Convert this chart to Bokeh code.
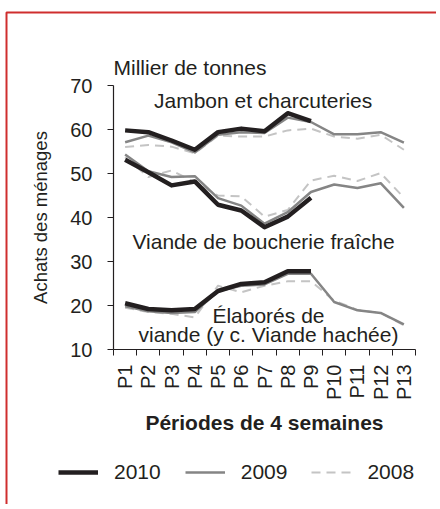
import math
from bokeh.plotting import figure
from bokeh.models import FixedTicker, Label, Legend, LegendItem, BoxAnnotation, Range1d
from bokeh.embed import file_html
from bokeh.resources import INLINE

periods = ["P1", "P2", "P3", "P4", "P5", "P6", "P7", "P8", "P9", "P10", "P11", "P12", "P13"]
years = ["2010", "2009", "2008"]

jambon_2010 = [59.8, 59.4, 57.5, 55.4, 59.4, 60.2, 59.6, 63.7, 61.9]
jambon_2009 = [57.1, 58.6, 57.1, 54.8, 58.8, 59.4, 59.2, 62.7, 61.7, 58.9, 58.9, 59.4, 57.0]
jambon_2008 = [56.0, 56.5, 56.1, 54.6, 58.6, 58.4, 58.4, 59.8, 60.2, 58.4, 57.9, 58.8, 55.4]

boucherie_2010 = [53.1, 50.3, 47.3, 48.2, 42.9, 41.6, 37.8, 40.2, 44.5]
boucherie_2009 = [54.3, 50.5, 49.2, 49.4, 44.4, 42.7, 38.6, 41.2, 45.8, 47.5, 46.7, 47.8, 42.2]
boucherie_2008 = [53.7, 49.2, 50.7, 48.0, 45.0, 44.8, 40.2, 41.7, 48.4, 49.5, 48.3, 50.1, 44.5]

elabores_2010 = [20.5, 19.2, 18.9, 19.2, 23.3, 24.9, 25.3, 27.8, 27.8]
elabores_2009 = [19.8, 18.7, 18.3, 18.5, 23.3, 24.5, 24.8, 27.2, 27.2, 20.8, 18.9, 18.3, 15.7]
elabores_2008 = [19.5, 18.5, 18.1, 17.3, 24.5, 23.0, 24.5, 25.5, 25.5, 21.1, 19.0, 18.3, 15.5]

y_ticks = [10, 20, 30, 40, 50, 60, 70]
Y_MIN, Y_MAX = 10, 70

FONT = "Liberation Sans"
TXT = "#231f20"
RED = "#cf2e2e"

# layout (pixels): canvas size and where the axes sit on it
W, H = 436, 504
AX_LEFT, AX_RIGHT, AX_TOP, AX_BOTTOM = 113, 415, 85, 349
LEGEND_LEFT, LEGEND_BOTTOM = 58, 484
n = len(periods)
px_x = (AX_RIGHT - AX_LEFT) / n
px_y = (AX_BOTTOM - AX_TOP) / (Y_MAX - Y_MIN)

def dx(px):
    return (px - AX_LEFT) / px_x

def dy(py):
    return Y_MIN + (AX_BOTTOM - py) / px_y

p = figure(width=W, height=H, x_range=Range1d(dx(0), dx(W)), y_range=Range1d(dy(H), dy(0)),
           output_backend="svg", toolbar_location=None, title=None, min_border=0)
p.outline_line_color = None
p.xgrid.visible = False
p.ygrid.visible = False
p.background_fill_color = "white"
p.border_fill_color = "white"

def xs(k):
    return [periods.index(periods[i]) + 0.5 for i in range(k)]

styles = {
    "2008": dict(line_color="#c4c4c4", line_width=2, line_dash="9 6"),
    "2009": dict(line_color="#858585", line_width=2.5),
    "2010": dict(line_color="#231f20", line_width=4.5),
}
series = {
    "2008": [jambon_2008, boucherie_2008, elabores_2008],
    "2009": [jambon_2009, boucherie_2009, elabores_2009],
    "2010": [jambon_2010, boucherie_2010, elabores_2010],
}
renderers = {}
for yr in ["2008", "2009", "2010"]:
    for vals in series[yr]:
        r = p.line(xs(len(vals)), vals, line_join="round", **styles[yr])
        renderers.setdefault(yr, r)

ax = p.xaxis[0]
ax.fixed_location = Y_MIN
ax.bounds = (0, n)
ax.ticker = FixedTicker(ticks=[i + 0.5 for i in range(n)], minor_ticks=list(range(n + 1)))
ax.major_label_overrides = {i + 0.5: lab for i, lab in enumerate(periods)}
ax.major_tick_out = 0
ax.major_tick_in = 0
ax.minor_tick_out = 6
ax.minor_tick_in = 0
ax.major_label_orientation = math.pi / 2
ax.major_label_standoff = 9
ax.axis_label = "Périodes de 4 semaines"
ax.axis_label_text_font_style = "bold"
ax.axis_label_text_font_size = "21px"
ax.axis_label_standoff = 8

ay = p.yaxis[0]
ay.fixed_location = 0
ay.bounds = (Y_MIN, Y_MAX)
ay.ticker = FixedTicker(ticks=y_ticks)
ay.major_tick_out = 6
ay.major_tick_in = 0
ay.minor_tick_out = 0
ay.minor_tick_in = 0
ay.major_label_standoff = 15
ay.axis_label = "Achats des ménages"
ay.axis_label_text_font_style = "normal"
ay.axis_label_text_font_size = "18.5px"
ay.axis_label_standoff = 16

for a in (ax, ay):
    a.axis_line_color = TXT
    a.axis_line_width = 1.2
    a.major_tick_line_color = TXT
    a.minor_tick_line_color = TXT
    a.major_label_text_font = FONT
    a.major_label_text_font_size = "20px"
    a.major_label_text_color = TXT
    a.axis_label_text_font = FONT
    a.axis_label_text_color = TXT

def lab(x, y, text, align="center"):
    p.add_layout(Label(x=x, y=y, text=text, text_font=FONT, text_font_size="21px",
                       text_color=TXT, text_align=align, text_baseline="alphabetic"))

lab(0, 74.2, "Millier de tonnes", "left")
lab(6.44, 66.7, "Jambon et charcuteries")
lab(6.46, 34.6, "Viande de boucherie fraîche")
lab(6.67, 17.8, "Élaborés de")
lab(6.67, 13.4, "viande (y c. Viande hachée)")

legend = Legend(items=[LegendItem(label=yr, renderers=[renderers[yr]]) for yr in years],
                location=(LEGEND_LEFT, H - LEGEND_BOTTOM), orientation="horizontal",
                label_text_font=FONT, label_text_font_size="21px", label_text_color=TXT,
                glyph_width=40, glyph_height=20, label_standoff=16, spacing=24,
                padding=0, margin=0, border_line_alpha=0, background_fill_alpha=0)
p.add_layout(legend)

# red frame around the chart (its right and bottom edges lie off the page)
p.add_layout(BoxAnnotation(left=dx(6), right=dx(W + 20), top=dy(12), bottom=dy(H + 20),
                           fill_alpha=0, line_color=RED, line_alpha=1.0, line_width=2))

open("out.html", "w").write(file_html(p, INLINE))
